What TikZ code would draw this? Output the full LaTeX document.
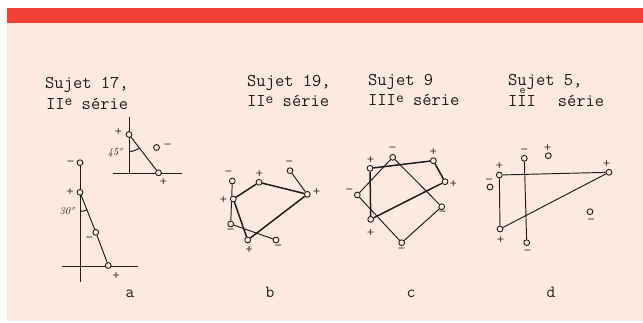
\documentclass[tikz,border=0pt]{standalone}
\usepackage{fontspec}
\newfontfamily\symf{DejaVu Sans}
\definecolor{redbar}{HTML}{EE4036}
\definecolor{peach}{HTML}{FCEAE0}
\definecolor{inkc}{HTML}{1E1E1E}
\pgfdeclarelayer{back}
\pgfdeclarelayer{bg}
\pgfsetlayers{back,bg,main}
\newcommand{\supe}[1]{\raisebox{#1}{\fontsize{15}{15}\selectfont e}}
\begin{document}
\begin{tikzpicture}[x=1pt,y=-1pt,
 heavy/.style={draw=inkc,line width=1.5pt},
 light/.style={draw=inkc,line width=0.95pt},
 pt/.style={circle,draw=inkc,fill=peach,inner sep=0pt,minimum size=5.8pt,line width=0.9pt},
 sg/.style={font=\symf\fontsize{9.5}{9.5}\selectfont,text=inkc,inner sep=0pt},
 ang/.style={font=\itshape\fontsize{10.5}{10.5}\selectfont,text=inkc,inner sep=0pt},
 ttl/.style={font=\ttfamily\fontsize{18}{20}\selectfont,text=inkc,anchor=base west,inner sep=0pt},
 figlabel/.style={font=\ttfamily\fontsize{17}{17}\selectfont,text=inkc,anchor=base,inner sep=0pt}]
\path[use as bounding box] (0,0) rectangle (643,322);
\begin{pgfonlayer}{back}
\fill[white] (0,0) rectangle (643,322);
\fill[peach] (7,23) rectangle (643,321);
\fill[redbar] (7,8) rectangle (643,23);
\end{pgfonlayer}

% ---------- titles ----------
\node[ttl] (ta1) at (45,88.5) {Sujet 17,};
\node[ttl] (ta2) at (46,109) {II\supe{3.5pt} série};
\node[ttl] (tb1) at (247,86.5) {Sujet 19,};
\node[ttl] (tb2) at (247,106.5) {II\supe{3.5pt} série};
\node[ttl] (tc1) at (368,85.5) {Sujet 9};
\node[ttl] (tc2) at (368,105.5) {III\supe{3.5pt} série};
\node[ttl] (td1) at (508,85.5) {Sujet 5,};
\node[ttl] (td2) at (508,106) {III};
\node[ttl,font=\ttfamily\fontsize{11.5}{11.5}\selectfont] (td3) at (519.5,93.2) {e};
\node[ttl] (td4) at (557.7,106) {série};

% ---------- figure a ----------
\node[pt] (a1) at (80,162.7) {};
\node[pt] (a2) at (80,192.3) {};
\node[pt] (a3) at (95.8,232.3) {};
\node[pt] (a4) at (108.3,265.5) {};
\coordinate (abot) at (80,282);
\coordinate (ahl) at (62,266);
\coordinate (ahr) at (138,266);
\node[sg] (la1) at (70.5,162.5) {−};
\node[sg] (la2) at (70,192) {+};
\node[sg] (la3) at (89.3,238.5) {−};
\node[sg] (la4) at (116,275.5) {+};
\node[ang] (la5) at (67,211.5) {30°};
\begin{pgfonlayer}{bg}
\draw[light] (a1) -- (abot);
\draw[light] (ahl) -- (ahr);
\draw[light] (a2) -- (a3) -- (a4);
\draw[light] (a2.center) ++(90:19) arc[start angle=90,end angle=69,radius=19];
\end{pgfonlayer}

% inset of a
\node[pt] (b1) at (129,134.5) {};
\node[pt] (b2) at (158.5,172.8) {};
\node[pt] (b3) at (156.5,147.5) {};
\coordinate (btop) at (129,117);
\coordinate (bax) at (129,173.5);
\coordinate (bhl) at (113,173.5);
\coordinate (bhr) at (182,173.5);
\node[sg] (lb1) at (118.3,132) {+};
\node[sg] (lb2) at (163.3,181.7) {+};
\node[sg] (lb3) at (167.5,146) {−};
\node[ang] (lb4) at (115,152.5) {45°};
\begin{pgfonlayer}{bg}
\draw[light] (btop) -- (bax);
\draw[light] (bhl) -- (bhr);
\draw[light] (b1) -- (b2);
\draw[light] (b1.center) ++(90:17) arc[start angle=90,end angle=52,radius=17];
\end{pgfonlayer}

% ---------- figure b ----------
\node[pt] (c1) at (232.3,181) {};
\node[pt] (c2) at (233.3,199) {};
\node[pt] (c3) at (230.7,224) {};
\node[pt] (c4) at (247.7,240) {};
\node[pt] (c5) at (276,240) {};
\node[pt] (c6) at (259,182.3) {};
\node[pt] (c7) at (307.3,194.3) {};
\node[pt] (c8) at (290,170.7) {};
\node[sg] (lc1) at (228.5,172.5) {−};
\node[sg] (lc2) at (223.3,199.3) {+};
\node[sg] (lc3) at (230.7,231) {−};
\node[sg] (lc4) at (249,249.3) {+};
\node[sg] (lc5) at (278.3,246.7) {−};
\node[sg] (lc6) at (259.3,173.3) {+};
\node[sg] (lc7) at (316.7,191.5) {+};
\node[sg] (lc8) at (289.3,162.7) {−};
\begin{pgfonlayer}{bg}
\draw[light] (c1) -- (c3);
\draw[heavy] (c2) -- (c6) -- (c7) -- (c4) -- (c2);
\draw[light] (c7) -- (c8);
\draw[light] (c3) -- (c5);
\end{pgfonlayer}

% ---------- figure c ----------
\node[pt] (d1) at (370,168.3) {};
\node[pt] (d2) at (392.7,157.3) {};
\node[pt] (d3) at (433.3,160.7) {};
\node[pt] (d4) at (445,181.7) {};
\node[pt] (d5) at (441.7,206.7) {};
\node[pt] (d6) at (401.7,242.7) {};
\node[pt] (d7) at (370.7,219.3) {};
\node[pt] (d8) at (357.3,195) {};
\node[sg] (ld1) at (370.7,159.3) {+};
\node[sg] (ld2) at (392.7,149.3) {−};
\node[sg] (ld3) at (433.3,151.7) {+};
\node[sg] (ld4) at (453.3,184) {+};
\node[sg] (ld5) at (442.7,213) {−};
\node[sg] (ld6) at (401.7,250) {−};
\node[sg] (ld7) at (370.7,232.7) {+};
\node[sg] (ld8) at (349.3,190.7) {−};
\begin{pgfonlayer}{bg}
\draw[heavy] (d1) -- (d3) -- (d4) -- (d7) -- (d1);
\draw[light] (d8) -- (d2) -- (d5) -- (d6) -- (d8);
\end{pgfonlayer}

% ---------- figure d ----------
\node[pt] (e1) at (499.3,175) {};
\node[pt] (e2) at (609,172.3) {};
\node[pt] (e3) at (500,229) {};
\node[pt] (e4) at (524.3,158.3) {};
\node[pt] (e5) at (526.7,242.7) {};
\node[pt] (e6) at (548.3,155.7) {};
\node[pt] (e7) at (490,187) {};
\node[pt] (e8) at (590,211.7) {};
\node[sg] (le1) at (499.3,165.5) {+};
\node[sg] (le2) at (606.7,164) {+};
\node[sg] (le3) at (500.7,240) {+};
\node[sg] (le4) at (524.3,151) {−};
\node[sg] (le5) at (527.7,251.7) {−};
\node[sg] (le6) at (547.7,147.3) {+};
\node[sg] (le7) at (489,180.5) {−};
\node[sg] (le8) at (591,220.7) {−};
\begin{pgfonlayer}{bg}
\draw[light] (e1) -- (e2);
\draw[light] (e1) -- (e3);
\draw[light] (e3) -- (e2);
\draw[light] (e4) -- (e5);
\end{pgfonlayer}

% ---------- captions ----------
\node[figlabel] (na) at (130,297) {a};
\node[figlabel] (nb) at (270,297) {b};
\node[figlabel] (nc) at (411,297) {c};
\node[figlabel] (nd) at (551,297) {d};
\end{tikzpicture}
\end{document}
